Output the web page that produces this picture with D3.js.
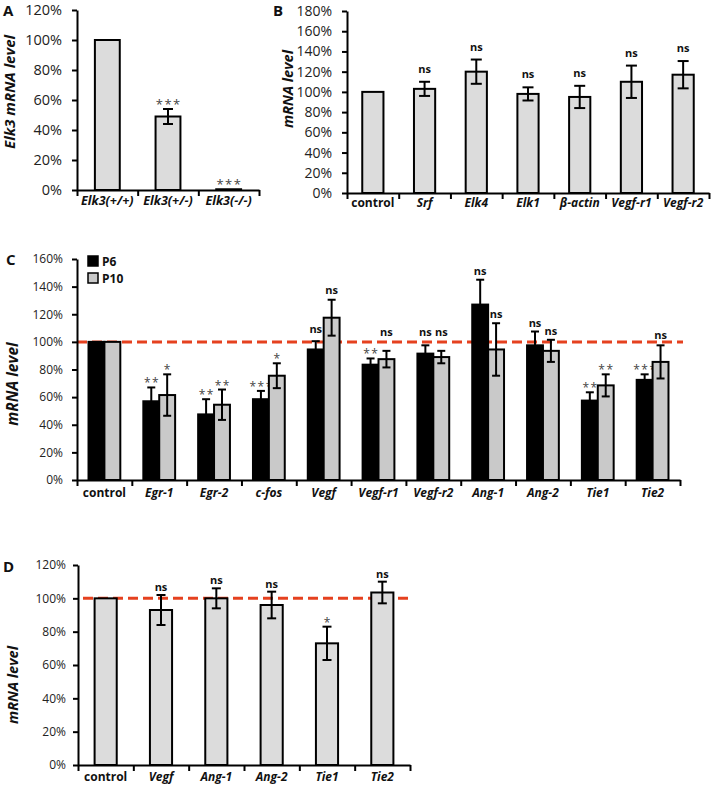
<!DOCTYPE html>
<html><head><meta charset="utf-8">
<script src="https://cdn.jsdelivr.net/npm/d3@7"></script>
<style>body{margin:0;background:#fff} text{font-family:"Open Sans",Lato,sans-serif}</style>
</head><body><svg id="c" width="713" height="787"></svg>
<script>
// Panel A
const catsA = ["Elk3(+/+)","Elk3(+/-)","Elk3(-/-)"];
const valsA = [100, 49, 0.5];
const errA  = [0, 5, 0];
const sigA  = ["", "***", "***"];
// Panel B
const catsB = ["control","Srf","Elk4","Elk1","β-actin","Vegf-r1","Vegf-r2"];
const valsB = [100,103,120,98,95,110,117];
const errB  = [0,7,12,6.5,11,16,13.5];
const sigB  = ["","ns","ns","ns","ns","ns","ns"];
// Panel C
const catsC = ["control","Egr-1","Egr-2","c-fos","Vegf","Vegf-r1","Vegf-r2","Ang-1","Ang-2","Tie1","Tie2"];
const p6C    = [100,57,47.5,58.5,94.5,83.5,91.5,127,97.5,57.5,72.5];
const p6ErrC = [0,10,11,6,6,4.5,6,18,10,6,4];
const p10C    = [100,61.5,54.5,75.5,117.5,87.5,89,94.5,93.5,68.5,85.5];
const p10ErrC = [0,15,11,9,13,6,4.5,19,8,8,12];
const sigP6C  = ["","**","**","***","ns","**","ns","ns","ns","**","***"];
const sigP10C = ["","*","**","*","ns","ns","ns","ns","ns","**","ns"];
const legendC = ["P6","P10"];
// Panel D
const catsD = ["control","Vegf","Ang-1","Ang-2","Tie1","Tie2"];
const valsD = [100,93,100,96,73,103.5];
const errD  = [0,9,6,8,10,6.5];
const sigD  = ["","ns","ns","ns","*","ns"];

// layout-only: extra lift (px) of some labels in panel C, keyed "series:category"
const liftC = {"0:Vegf":2, "1:Vegf-r1":9, "0:Vegf-r2":3, "1:Vegf-r2":9, "0:Ang-1":-1, "1:Ang-1":-1, "0:Ang-2":-1, "1:Ang-2":-1};

const svg = d3.select("#c");
const RED = "#e5411f";
const FONT = "'Open Sans', Lato, sans-serif";

function panel(o){
  const g = svg.append("g");
  const x = d3.scaleBand().domain(o.cats).range([o.left,o.right]).padding(0);
  const y = d3.scaleLinear().domain([0,o.max]).range([o.bottom,o.top]);
  const bw = x.bandwidth();
  const n = o.series.length;
  const xs = d3.scaleBand().domain(d3.range(n)).range([bw*(1-o.groupFrac)/2, bw*(1+o.groupFrac)/2]).padding(0);

  if (o.dash) {
    g.append("line").attr("x1",o.dash[0]).attr("x2",o.dash[1])
      .attr("y1",y(100)).attr("y2",y(100))
      .attr("stroke",RED).attr("stroke-width",3).attr("stroke-dasharray","10,5");
  }

  const ya = d3.axisLeft(y).tickValues(d3.range(0,o.max+1,20)).tickFormat(d=>d+"%")
    .tickSizeInner(5).tickSizeOuter(0).tickPadding(o.tickPad);
  const yg = g.append("g").attr("transform",`translate(${o.left},0)`).call(ya);
  yg.attr("font-family",FONT);
  yg.select(".domain").attr("stroke","#000").attr("stroke-width",2);
  yg.selectAll(".tick line").attr("stroke","#000").attr("stroke-width",2);
  yg.selectAll(".tick text").attr("font-size",o.tickFont).attr("fill","#222");

  o.series.forEach((s,si)=>{
    const bx = c => x(c) + xs(si);
    g.append("g").selectAll("rect").data(o.cats).join("rect")
      .attr("x", c=>bx(c)).attr("width", xs.bandwidth())
      .attr("y", (c,i)=>y(s.vals[i])).attr("height",(c,i)=>Math.max(0.5, y(0)-y(s.vals[i])))
      .attr("fill", s.fill).attr("stroke","#000").attr("stroke-width",2);
    o.cats.forEach((c,i)=>{
      const e = s.errs[i]; if(!e) return;
      const cx = bx(c) + xs.bandwidth()/2;
      const y1 = y(s.vals[i]+e), y2 = y(s.vals[i]-e);
      g.append("line").attr("x1",cx).attr("x2",cx).attr("y1",y1).attr("y2",y2).attr("stroke","#000").attr("stroke-width",2);
      [y1,y2].forEach(yy=>g.append("line").attr("x1",cx-o.cap).attr("x2",cx+o.cap).attr("y1",yy).attr("y2",yy).attr("stroke","#000").attr("stroke-width",2));
    });
    o.cats.forEach((c,i)=>{
      const t = s.sig[i]; if(!t) return;
      const cx = bx(c) + xs.bandwidth()/2;
      const top = y(s.vals[i]+(s.errs[i]||0)) - 1;
      const isStar = t.indexOf("*")>=0;
      const lift = (o.lift && o.lift[si+":"+c]) || 0;
      g.append("text").attr("x",cx + (isStar? 0.75:0)).attr("y", (isStar ? top + 1 : top - o.nsOff) - lift)
        .attr("text-anchor","middle")
        .attr("font-size", isStar ? o.starFont : o.nsFont)
        .attr("font-weight", isStar ? "normal" : "bold")
        .attr("letter-spacing", isStar ? "1.5px" : "0")
        .attr("fill", isStar ? "#444" : "#111")
        .text(t);
    });
  });

  const xl = d3.scaleLinear().domain([0,o.cats.length]).range([o.left,o.right]);
  const xa = d3.axisBottom(xl).tickValues(d3.range(0,o.cats.length+1)).tickFormat("").tickSizeInner(6).tickSizeOuter(0);
  const xg = g.append("g").attr("transform",`translate(0,${o.bottom})`).call(xa);
  xg.select(".domain").attr("stroke","#000").attr("stroke-width",2);
  xg.selectAll(".tick line").attr("stroke","#000").attr("stroke-width",2);
  g.append("g").selectAll("text").data(o.cats).join("text")
    .attr("x", c=>x(c)+bw/2).attr("y", o.labelY)
    .attr("text-anchor","middle").attr("font-size",o.catFont).attr("font-weight","bold")
    .attr("font-style", c=> c==="control" ? "normal" : "italic")
    .attr("fill","#111").text(c=>c);

  g.append("text").attr("transform",`translate(${o.titleX},${o.titleY}) rotate(-90)`)
    .attr("text-anchor","middle").attr("font-size",o.titleFont).attr("font-weight","bold")
    .attr("font-style","italic").attr("fill","#111").text(o.title);
  g.append("text").attr("x",o.letterX).attr("y",o.letterY).attr("font-size",15)
    .attr("font-weight","bold").attr("fill","#111").text(o.letter);
  return {g,x,y};
}

panel({letter:"A", letterX:3, letterY:16, cats:catsA, left:77, right:259, top:10, bottom:190, max:120,
  series:[{vals:valsA, errs:errA, sig:sigA, fill:"#dcdcdc"}], groupFrac:0.41, cap:5,
  tickFont:14.5, tickPad:10, catFont:12.5, labelY:205, title:"Elk3 mRNA level", titleFont:15, titleX:15, titleY:92,
  nsFont:11, nsOff:9, starFont:13});

panel({letter:"B", letterX:273, letterY:16, cats:catsB, left:347, right:709, top:11, bottom:193, max:180,
  series:[{vals:valsB, errs:errB, sig:sigB, fill:"#dcdcdc"}], groupFrac:0.41, cap:5.5,
  tickFont:14, tickPad:10, catFont:12, labelY:207, title:"mRNA level", titleFont:14.5, titleX:293, titleY:89,
  nsFont:11, nsOff:8, starFont:13});

panel({letter:"C", letterX:6, letterY:265, cats:catsC, left:77, right:680, top:259, bottom:480, max:160,
  series:[{vals:p6C, errs:p6ErrC, sig:sigP6C, fill:"#000"},{vals:p10C, errs:p10ErrC, sig:sigP10C, fill:"#c9c9c9"}],
  groupFrac:0.58, cap:4, dash:[77,683], lift:liftC,
  tickFont:12, tickPad:9, catFont:12, labelY:497, title:"mRNA level", titleFont:15.5, titleX:18, titleY:384,
  nsFont:11, nsOff:5, starFont:12});
const lg = svg.append("g");
legendC.forEach((t,i)=>{
  lg.append("rect").attr("x",88).attr("y",256+i*17).attr("width",10).attr("height",10)
    .attr("fill", i===0 ? "#000" : "#c9c9c9").attr("stroke","#000").attr("stroke-width",1.5);
  lg.append("text").attr("x",102).attr("y",266+i*17).attr("font-size",12).attr("font-weight","bold").attr("fill","#111").text(t);
});

panel({letter:"D", letterX:3, letterY:572, cats:catsD, left:78, right:410, top:565, bottom:765, max:120,
  series:[{vals:valsD, errs:errD, sig:sigD, fill:"#dcdcdc"}], groupFrac:0.4, cap:4.5, dash:[83,413],
  tickFont:12, tickPad:7, catFont:12, labelY:781, title:"mRNA level", titleFont:14.5, titleX:18, titleY:685,
  nsFont:11, nsOff:3, starFont:12});
</script></body></html>
